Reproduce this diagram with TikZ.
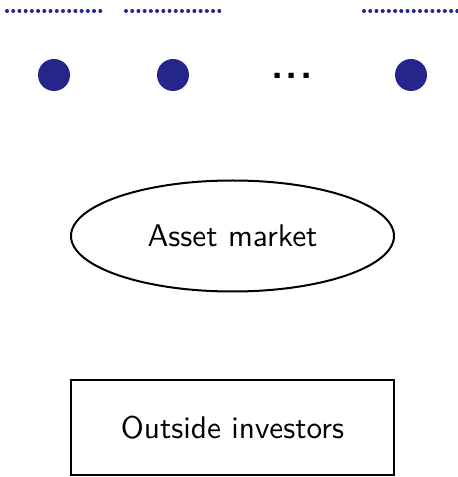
\documentclass[tikz,border=0pt]{standalone}
\usepackage{fontspec}
\usetikzlibrary{shapes.geometric}
\newfontfamily\labelsans{lmsans10-regular.otf}
\newfontfamily\labelsansbold{lmsans10-bold.otf}
\definecolor{agentblue}{RGB}{36,38,140}
\tikzset{
  agent/.style={circle, fill=agentblue, inner sep=0pt, minimum size=32pt},
  tinydot/.style={circle, fill=agentblue, inner sep=0pt, minimum size=4pt},
  outline/.style={draw=black, line width=2pt},
  lbl/.style={font=\labelsans\fontsize{31.3}{36}\selectfont}
}
\begin{document}
\begin{tikzpicture}[x=1pt,y=1pt]
  \useasboundingbox (0,0) rectangle (458,477);
  % rows of small dots above the agents
  \foreach \sx/\k in {7/a,126/b,364/c}{
    \foreach \i in {0,...,15}{
      \node[tinydot] (d\k\i) at ({\sx+6.22*\i},466) {};
    }
  }
  % agents
  \node[agent] (c1) at (54,402) {};
  \node[agent] (c2) at (173,402) {};
  \node[anchor=base, inner sep=0pt, font=\labelsansbold\fontsize{40}{44}\selectfont] (gap) at (292,398.7) {.\kern2.3pt.\kern2.3pt.};
  \node[agent] (c3) at (411,402) {};
  % market and investors
  \node[outline, ellipse, minimum width=323pt, minimum height=111pt, lbl] (market) at (232.5,241) {Asset market};
  \node[outline, rectangle, minimum width=323pt, minimum height=95pt, lbl] (investors) at (232.5,49) {Outside investors};
\end{tikzpicture}
\end{document}
